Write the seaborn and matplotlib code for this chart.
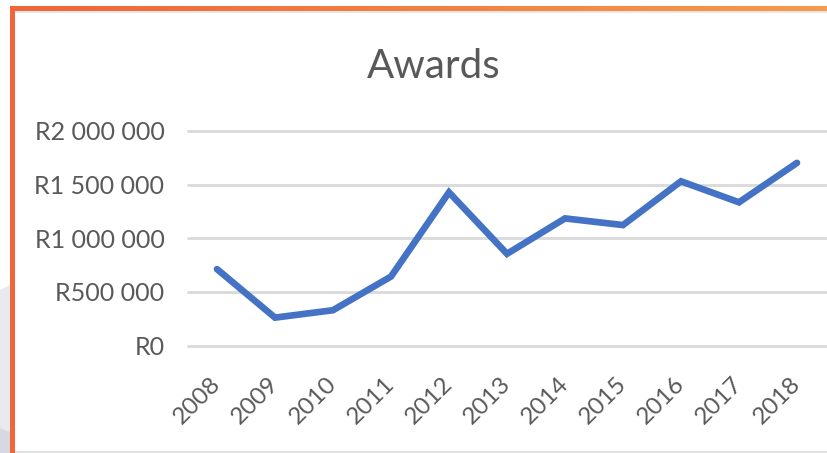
import numpy as np
import pandas as pd
import matplotlib
matplotlib.use("Agg")
import matplotlib.pyplot as plt
import seaborn as sns
from matplotlib.patches import Rectangle, Polygon
from matplotlib.ticker import FuncFormatter

# Data
years = ["2008", "2009", "2010", "2011", "2012", "2013",
         "2014", "2015", "2016", "2017", "2018"]
awards = [712000, 260000, 329000, 643000, 1428000, 855000,
          1185000, 1123000, 1531000, 1335000, 1703000]
y_ticks = [0, 500000, 1000000, 1500000, 2000000]
title = "Awards"

W, H = 828, 453
TEXT = "#595959"
GRID = "#D9D9D9"
LINE = "#4472C4"

sns.set_theme(style="white")
plt.rcParams["font.family"] = ["Lato", "DejaVu Sans"]

df = pd.DataFrame({"year": years, "awards": awards})

fig = plt.figure(figsize=(W / 100, H / 100), dpi=100)
fig.patch.set_facecolor("white")

# background decoration in pixel coordinates
bg = fig.add_axes([0, 0, 1, 1], zorder=0)
bg.set_xlim(0, W)
bg.set_ylim(H, 0)
bg.axis("off")
bg.add_patch(Polygon([[0, 290], [10, 285], [10, H], [0, H]],
                     closed=True, color="#E9EAF0", lw=0))
bg.add_patch(Polygon([[0, 428], [10, 432], [10, H], [0, H]],
                     closed=True, color="#D6D9E3", lw=0))
grad = np.linspace(0, 1, 256)[None, :]
cmap = matplotlib.colors.LinearSegmentedColormap.from_list(
    "border", ["#F0653A", "#F79A4A"])
bg.imshow(grad, extent=[10, W, 11, 6], aspect="auto", cmap=cmap)
bg.add_patch(Rectangle((15, 11), W - 15, 2, color="#E6E6E6", lw=0))
bg.add_patch(Rectangle((10, 6), 5, H - 6, color="#F0653A", lw=0))
bg.add_patch(Rectangle((15, H - 2), W - 15, 2, color="#E0E0E0", lw=0))

# main chart
ax = fig.add_axes([188 / W, 1 - 345.5 / H, (826 - 188) / W, (345.5 - 131) / H],
                  zorder=2)
ax.set_facecolor("none")
sns.lineplot(data=df, x="year", y="awards", ax=ax, color=LINE,
             linewidth=4.8, solid_capstyle="round", solid_joinstyle="miter")

ax.set_xlim(-0.5, len(years) - 0.5)
ax.set_ylim(0, 2000000)
ax.set_yticks(y_ticks)
ax.yaxis.set_major_formatter(
    FuncFormatter(lambda v, p: "R" + f"{int(v):,}".replace(",", " ")))
ax.grid(axis="y", color=GRID, linewidth=2)
ax.set_axisbelow(True)
for gl in ax.yaxis.get_gridlines():
    gl.set_clip_on(False)
for s in ax.spines.values():
    s.set_visible(False)

ax.tick_params(axis="y", length=0, pad=17, labelsize=18, labelcolor=TEXT)
ax.tick_params(axis="x", length=0, pad=25, labelsize=17.5, labelcolor=TEXT)
for lbl in ax.get_xticklabels():
    lbl.set_rotation(45)
    lbl.set_ha("right")
    lbl.set_va("center")
    lbl.set_rotation_mode("anchor")
ax.set_xlabel("")
ax.set_ylabel("")

fig.text(434 / W, 1 - 78 / H, title, ha="center", va="baseline",
         fontsize=29, color=TEXT)

fig.savefig("out.png", dpi=100)
